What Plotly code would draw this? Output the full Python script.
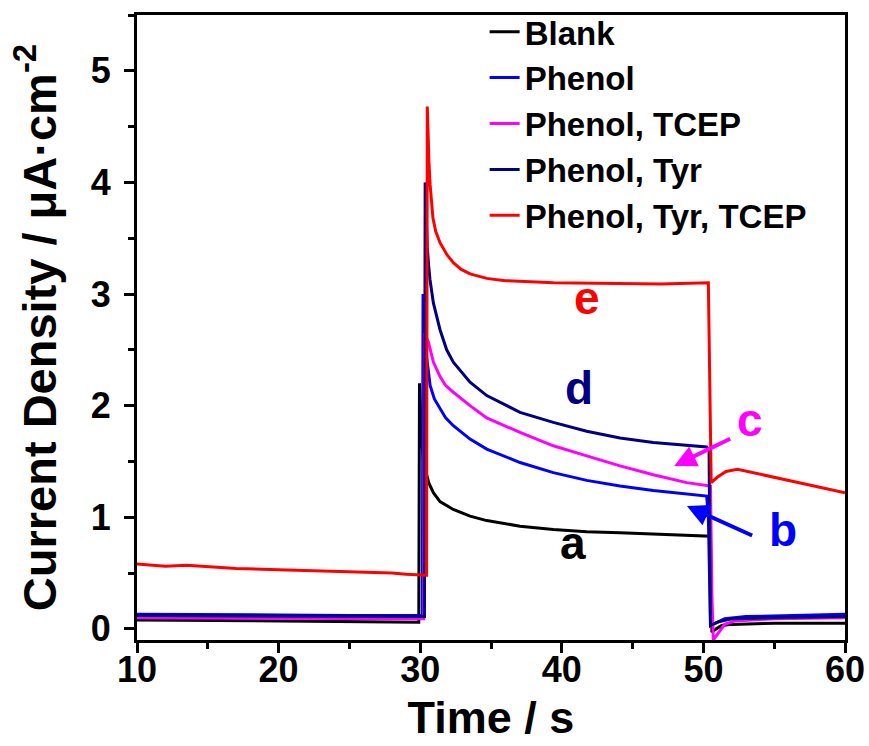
import plotly.graph_objects as go

# ---------------- data ----------------
t_blank = [10, 15, 20, 25, 29.9, 29.95, 30.1, 30.24, 30.6, 30.93, 31.4, 32.34, 33.52, 34.7, 37.05, 39.4, 41.76, 44.11,
           47, 50.23, 50.5, 50.6, 50.9, 51.3, 52, 55, 60]
j_blank = [0.08, 0.075, 0.07, 0.065, 0.06, 2.2, 1.7, 1.49, 1.31, 1.22, 1.14, 1.07, 1.01, 0.97, 0.92, 0.89, 0.87, 0.86,
           0.845, 0.83, 0.83, -0.03, 0.0, 0.03, 0.04, 0.05, 0.05]

t_phenol = [10, 15, 20, 25, 30.15, 30.2, 30.3, 30.5, 30.7, 31.0, 31.4, 31.8, 32.34, 33.52, 34.7, 37.05, 39.4, 41.76,
            44.11, 46.46, 50.23, 50.35, 50.5, 50.8, 51.5, 53, 60]
j_phenol = [0.13, 0.13, 0.125, 0.12, 0.12, 3.0, 2.6, 2.39, 2.18, 2.06, 1.97, 1.89, 1.82, 1.70, 1.61, 1.49, 1.40, 1.33,
            1.28, 1.24, 1.19, 1.0, 0.03, 0.05, 0.09, 0.11, 0.13]

t_phenol_tcep = [10, 20, 30.25, 30.3, 30.58, 30.93, 31.4, 31.8, 32.34, 33.52, 34.7, 37.05, 39.4, 41.76, 44.11, 46.46,
                 48.82, 50.5, 50.6, 50.7, 51.0, 51.5, 52.2, 55, 60]
j_phenol_tcep = [0.1, 0.095, 0.09, 2.65, 2.57, 2.39, 2.26, 2.18, 2.12, 2.0, 1.89, 1.76, 1.64, 1.55, 1.46, 1.38,
                 1.31, 1.28, 0.3, -0.1, -0.05, 0.04, 0.07, 0.09, 0.1]

t_phenol_tyr = [10, 20, 30.3, 30.35, 30.42, 30.5, 30.6, 30.69, 30.93, 31.4, 31.87, 32.34, 33.52, 34.7, 37.05, 39.4,
                41.76, 44.11, 46.46, 50.23, 50.4, 50.5, 51, 52, 55, 60]
j_phenol_tyr = [0.12, 0.115, 0.11, 4.0, 3.65, 3.42, 3.25, 3.13, 2.92, 2.68, 2.50, 2.39, 2.21, 2.09, 1.94, 1.85,
                1.77, 1.71, 1.67, 1.63, 1.6, 0.03, 0.06, 0.09, 0.1, 0.11]

t_phenol_tyr_tcep = [10, 12, 13.5, 15, 17, 20, 23, 25, 27, 28, 29, 30.45, 30.5, 30.55, 30.62, 30.7, 30.8, 30.9, 31.1,
                     31.4, 31.9, 32.34, 32.9, 33.52, 34.7, 36, 39.4, 44.11, 47, 50.35, 50.55, 51.0, 51.6, 52.4, 53.5,
                     55, 57.5, 60]
j_phenol_tyr_tcep = [0.58, 0.56, 0.57, 0.56, 0.54, 0.53, 0.52, 0.51, 0.51, 0.5, 0.49, 0.48, 4.68, 4.42, 4.18, 3.98,
                     3.82, 3.68, 3.56, 3.46, 3.35, 3.28, 3.22, 3.18, 3.14, 3.12, 3.10, 3.09, 3.09, 3.1, 1.31, 1.36,
                     1.41, 1.43, 1.40, 1.36, 1.29, 1.22]

series_names = ["Blank", "Phenol", "Phenol, TCEP", "Phenol, Tyr", "Phenol, Tyr, TCEP"]
series_colors = ["#000000", "#0000FF", "#FF00FF", "#000080", "#FF0000"]
series_t = [t_blank, t_phenol, t_phenol_tcep, t_phenol_tyr, t_phenol_tyr_tcep]
series_j = [j_blank, j_phenol, j_phenol_tcep, j_phenol_tyr, j_phenol_tyr_tcep]

# curve labels: letter, x, y
label_letters = ["a", "b", "c", "d", "e"]
label_colors = ["#000000", "#0000FF", "#FF00FF", "#000080", "#FF0000"]
label_x = [40.8, 55.6, 53.3, 41.2, 41.8]
label_y = [0.77, 0.89, 1.87, 2.16, 2.96]
# arrows (tail -> head) for b and c
arrow_tail_x = [53.55, 52.0]
arrow_tail_y = [0.83, 1.71]
arrow_head_x = [48.84, 47.94]
arrow_head_y = [1.10, 1.46]
arrow_colors = ["#0000FF", "#FF00FF"]

FONT = "Liberation Sans, Arial, sans-serif"

fig = go.Figure()
for name, color, tt, jj in zip(series_names, series_colors, series_t, series_j):
    fig.add_trace(go.Scatter(x=tt, y=jj, mode="lines", name=name, legendgroup=name,
                             line=dict(color=color, width=3)))

annotations = []
for letter, lx, ly, col in zip(label_letters, label_x, label_y, label_colors):
    annotations.append(dict(x=lx, y=ly, xref="x", yref="y", text=letter, showarrow=False,
                            font=dict(family=FONT, size=46, color=col, weight="bold")))
for tx, ty, hx, hy, col in zip(arrow_tail_x, arrow_tail_y, arrow_head_x, arrow_head_y, arrow_colors):
    annotations.append(dict(x=hx, y=hy, ax=tx, ay=ty, xref="x", yref="y", axref="x", ayref="y",
                            text="", showarrow=True, arrowhead=2, arrowsize=1.1, arrowwidth=4,
                            arrowcolor=col))

axis_common = dict(showline=True, linewidth=3, linecolor="black", mirror=True, showgrid=False,
                   zeroline=False, ticks="outside", ticklen=10, tickwidth=3, tickcolor="black",
                   automargin=False)

fig.update_layout(
    width=869, height=746,
    margin=dict(l=137, r=24, t=15, b=106, autoexpand=False),
    paper_bgcolor="white", plot_bgcolor="white",
    font=dict(family=FONT, color="black"),
    xaxis=dict(range=[10, 60], tick0=10, dtick=10,
               minor=dict(dtick=5, ticks="outside", ticklen=6, tickwidth=3, tickcolor="black", showgrid=False),
               tickfont=dict(family=FONT, size=36, color="black", weight="bold"),
               ticklabelstandoff=-14,
               title=dict(text="Time / s", font=dict(family=FONT, size=45, color="black", weight="bold"),
                          standoff=13),
               **axis_common),
    yaxis=dict(range=[-0.1, 5.5], tick0=0, dtick=1,
               minor=dict(dtick=0.5, ticks="outside", ticklen=6, tickwidth=3, tickcolor="black", showgrid=False),
               tickfont=dict(family=FONT, size=36, color="black", weight="bold"),
               ticklabelstandoff=6,
               title=dict(text="Current Density / μA·cm<sup>-2</sup>",
                          font=dict(family=FONT, size=47, color="black", weight="bold"), standoff=20),
               **axis_common),
    legend=dict(x=0.491, xref="paper", y=0.995, yref="container", xanchor="left", yanchor="top",
                bgcolor="rgba(0,0,0,0)",
                font=dict(family=FONT, size=33, color="black", weight="bold"),
                tracegroupgap=0, itemwidth=30),
    annotations=annotations,
    showlegend=True,
)

# remove the default page margin so the 869x746 figure fills the window exactly
fig.write_html("out.html", config={"displayModeBar": False},
               post_script="document.body.style.margin='0px';")
